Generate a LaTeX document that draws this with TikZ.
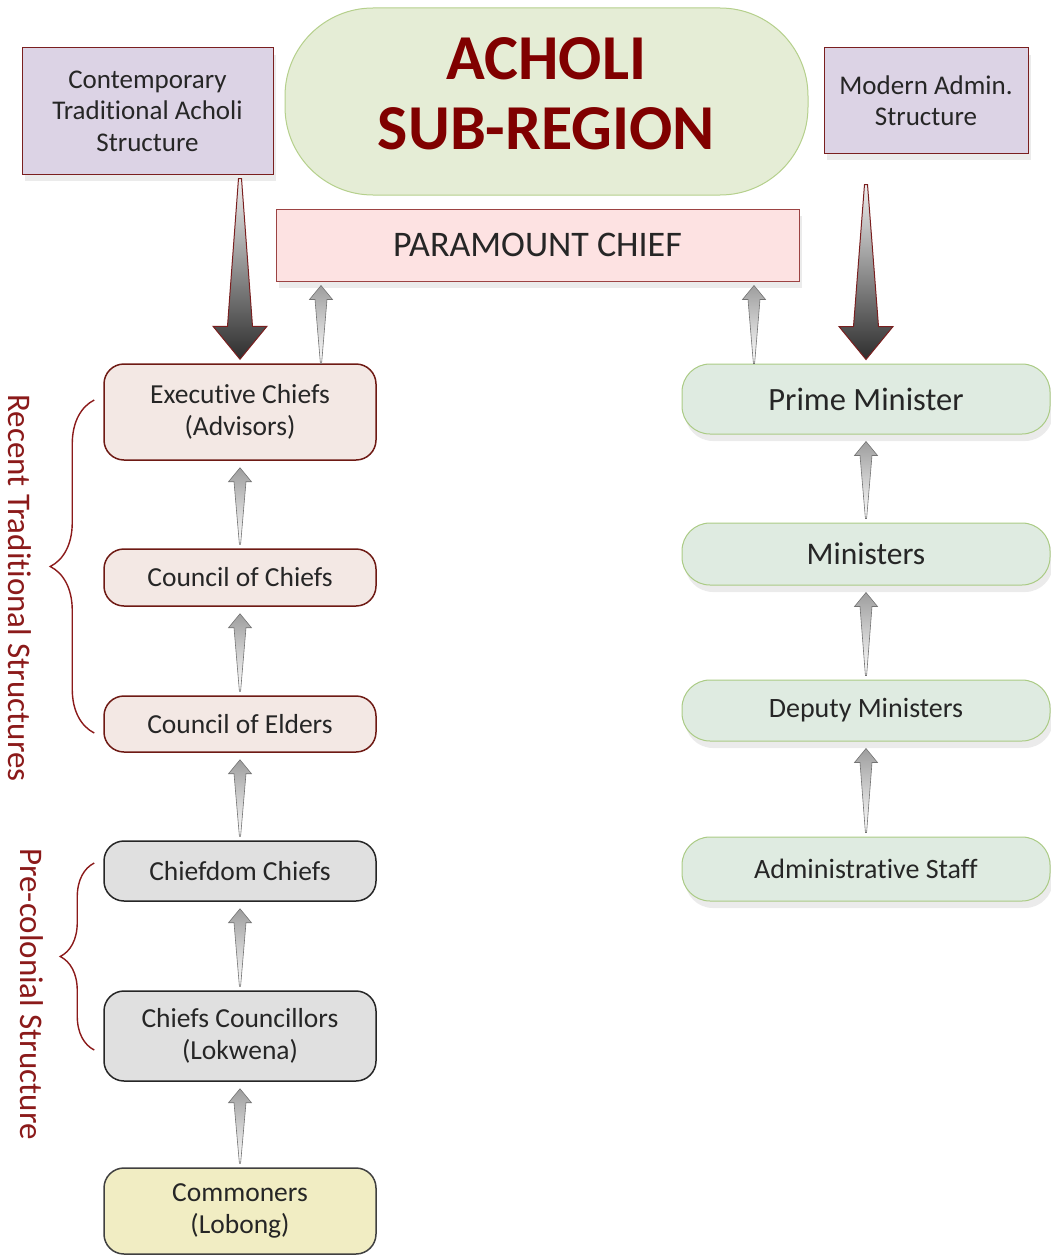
\documentclass[tikz,border=0pt]{standalone}
\usepackage{fontspec}
\setmainfont{Carlito}[Ligatures=NoCommon]
\usetikzlibrary{calc,positioning,shadows,decorations.pathreplacing}

\definecolor{lavfill}{HTML}{DCD3E5}
\definecolor{darkred}{HTML}{7A1F1F}
\definecolor{titlefill}{HTML}{E5EDD6}
\definecolor{titleline}{HTML}{B5D08C}
\definecolor{titletext}{HTML}{800000}
\definecolor{pcfill}{HTML}{FDE2E2}
\definecolor{pcline}{HTML}{9C4343}
\definecolor{tradfill}{HTML}{F3E8E4}
\definecolor{tradline}{HTML}{6E1A14}
\definecolor{prefill}{HTML}{E0E0E0}
\definecolor{comfill}{HTML}{F1EDC3}
\definecolor{admfill}{HTML}{DFEBE1}
\definecolor{admline}{HTML}{ABCB85}
\definecolor{bodytext}{HTML}{262626}
\definecolor{bracered}{HTML}{8B1A1A}

\tikzset{
  softshadow/.style={drop shadow={opacity=0.16,shadow xshift=3pt,shadow yshift=-7pt}},
  topbox/.style={draw=darkred, line width=1pt, fill=lavfill, align=center, text=bodytext,
    inner sep=0pt, font=\fontsize{27}{31.5}\selectfont, softshadow},
  titlebox/.style={draw=titleline, line width=1pt, fill=titlefill, align=center, text=titletext,
    rounded corners=88pt, minimum width=523pt, minimum height=187pt, inner sep=0pt,
    text depth=15pt, font=\fontsize{64}{70}\bfseries\selectfont},
  chiefbox/.style={draw=pcline, line width=1pt, fill=pcfill, text=bodytext, minimum width=523pt,
    minimum height=72pt, font=\fontsize{36}{42}\selectfont, softshadow},
  levelbox/.style={line width=1.5pt, rounded corners=20pt, align=center, text=bodytext,
    minimum width=272pt, inner sep=0pt, font=\fontsize{27.5}{32}\selectfont},
  tradbox/.style={levelbox, draw=tradline, fill=tradfill},
  prebox/.style={levelbox, draw=black!85, fill=prefill},
  combox/.style={levelbox, draw=black!75, fill=comfill},
  admbox/.style={levelbox, draw=admline, fill=admfill, minimum width=368pt, rounded corners=28pt,
    line width=1pt, font=\fontsize{27.5}{32}\selectfont, softshadow},
  bigarr/.style={draw=darkred, line width=1pt, top color=black!6, bottom color=black!82},
  thinarr/.style={draw=black!55, line width=0.6pt, top color=black!38, bottom color=white},
  bracestyle/.style={draw=bracered, line width=1.4pt, decorate},
  sidelabel/.style={text=bracered, rotate=-90, font=\fontsize{33}{38}\selectfont}
}

% big downward arrow, #1 top end, #2 tip
\newcommand\bigdown[2]{%
  \shadedraw[bigarr] let \p1=#1, \p2=#2 in
    (\x1-1.5pt,\y1) -- (\x2-12.5pt,\y2+33pt) -- (\x2-27pt,\y2+33pt) -- (\x2,\y2)
    -- (\x2+27pt,\y2+33pt) -- (\x2+12.5pt,\y2+33pt) -- (\x1+1.5pt,\y1) -- cycle;}
% thin upward arrow, #1 lower end, #2 tip
\newcommand\thinup[2]{%
  \shadedraw[thinarr] let \p1=#1, \p2=#2 in
    (\x1-0.6pt,\y1) -- (\x2-6pt,\y2-14pt) -- (\x2-11.5pt,\y2-14pt) -- (\x2,\y2)
    -- (\x2+11.5pt,\y2-14pt) -- (\x2+6pt,\y2-14pt) -- (\x1+0.6pt,\y1) -- cycle;}

\begin{document}
\begin{tikzpicture}[x=1pt,y=-1pt]
\useasboundingbox (0,0) rectangle (1051,1255);

% top row
\node[topbox, minimum width=251pt, minimum height=126pt] (cta) at (147.5,111)
  {Contemporary\\Traditional Acholi\\Structure};
\node[titlebox] (reg) at (546.5,101.5) {ACHOLI\\SUB-REGION};
\node[topbox, minimum width=204pt, minimum height=105pt] (mas) at (926,100.5)
  {Modern Admin.\\Structure};
\node[chiefbox] (pc) at (537.5,245) {PARAMOUNT CHIEF};

% traditional column
\node[tradbox, minimum height=96pt] (ec) at (240,412) {Executive Chiefs\\(Advisors)};
\node[tradbox, minimum height=57pt] (coc) at (240,577.5) {Council of Chiefs};
\node[tradbox, minimum height=56pt] (coe) at (240,724) {Council of Elders};
\node[prebox, minimum height=60pt] (cdc) at (240,871) {Chiefdom Chiefs};
\node[prebox, minimum height=90pt] (ccl) at (240,1036) {Chiefs Councillors\\(Lokwena)};
\node[combox, minimum height=86pt] (com) at (240,1211) {Commoners\\(Lobong)};

% administrative column
\node[admbox, minimum height=70pt, font=\fontsize{32.5}{36}\selectfont] (pm) at (866,399) {Prime Minister};
\node[admbox, minimum height=62pt, font=\fontsize{31.5}{36}\selectfont] (min) at (866,554) {Ministers};
\node[admbox, minimum height=61pt, font=\fontsize{28}{32}\selectfont] (dm) at (866,710.5) {Deputy Ministers};
\node[admbox, minimum height=64pt, font=\fontsize{28}{32}\selectfont] (as) at (866,869) {Administrative Staff};

% side labels
\node[sidelabel] (rts) at (20,588) {Recent Traditional Structures};
\node[sidelabel] (pcs) at (32,994) {Pre-colonial Structure};

\draw[bracestyle, decoration={brace, amplitude=44pt}]
  ([xshift=-9pt,yshift=-9pt]coe.west) -- ([xshift=-9pt,yshift=12pt]ec.west);
\draw[bracestyle, decoration={brace, amplitude=34pt}]
  ([xshift=-9pt,yshift=-14pt]ccl.west) -- ([xshift=-9pt,yshift=8pt]cdc.west);

% big arrows
\bigdown{([yshift=-4pt]cta.south -| ec.north)}{([yshift=4pt]ec.north)}
\bigdown{([yshift=-31pt]mas.south -| pm.north)}{([yshift=4pt]pm.north)}

% thin arrows
\thinup{([xshift=81pt]ec.north)}{([xshift=81pt,yshift=-4pt]ec.north |- pc.south)}
\thinup{([xshift=-112pt]pm.north)}{([xshift=-112pt,yshift=-4pt]pm.north |- pc.south)}
\foreach \lo/\hi in {coc/ec,coe/coc,cdc/coe,ccl/cdc,com/ccl,min/pm,dm/min,as/dm}
  \thinup{([yshift=4pt]\lo.north)}{([yshift=-7pt]\hi.south)};
\end{tikzpicture}
\end{document}
